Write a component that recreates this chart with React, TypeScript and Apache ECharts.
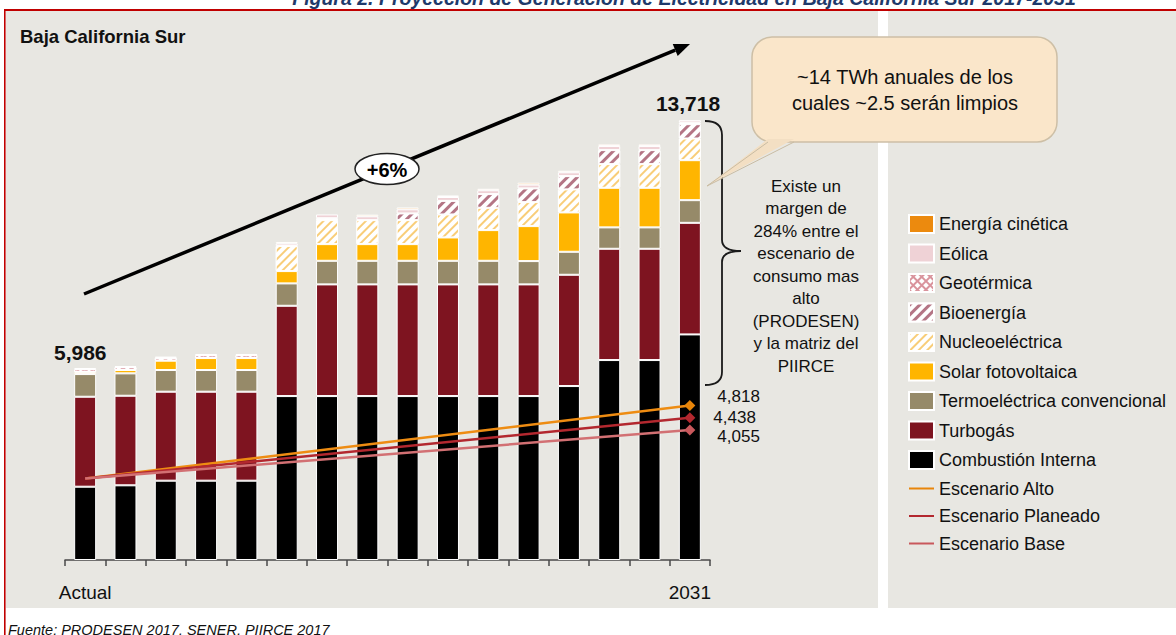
import React, { useEffect, useRef } from 'react';
import * as echarts from 'echarts';

// ---------- data ----------
const categories = ['Actual', '2017', '2018', '2019', '2020', '2021', '2022', '2023', '2024', '2025', '2026', '2027', '2028', '2029', '2030', '2031'];

const combustionInterna = [2286, 2329, 2474, 2474, 2474, 5113, 5113, 5113, 5113, 5113, 5113, 5113, 5425, 6236, 6236, 7036];
const turbogas = [2806, 2794, 2775, 2775, 2775, 2816, 3483, 3483, 3483, 3483, 3483, 3483, 3471, 3471, 3471, 3480];
const termoelectrica = [707, 698, 676, 676, 676, 698, 736, 736, 736, 736, 736, 727, 717, 667, 667, 707];
const solar = [62, 104, 291, 374, 374, 384, 520, 520, 520, 728, 957, 1091, 1228, 1235, 1235, 1247];
const nucleoelectrica = [0, 0, 0, 0, 0, 780, 748, 748, 748, 717, 696, 748, 717, 738, 738, 676];
const bioenergia = [0, 0, 0, 0, 0, 0, 0, 0, 208, 424, 427, 427, 415, 437, 437, 447];
const geotermica = [90, 90, 90, 90, 90, 0, 60, 0, 0, 0, 0, 0, 0, 0, 0, 50];
const eolica = [35, 35, 35, 35, 35, 80, 118, 120, 130, 120, 120, 120, 120, 130, 130, 75];
const cinetica = [0, 0, 0, 0, 0, 45, 0, 50, 57, 48, 46, 58, 46, 48, 48, 0];

const escenarioAlto = [2540, null, null, null, null, null, null, null, null, null, null, null, null, null, null, 4818];
const escenarioPlaneado = [2540, null, null, null, null, null, null, null, null, null, null, null, null, null, null, 4438];
const escenarioBase = [2540, null, null, null, null, null, null, null, null, null, null, null, null, null, null, 4055];

const shownLabels = ['Actual', '2031'];

// ---------- helpers ----------
const FONT = 'Liberation Sans';
const fmt = (v: number) => v.toLocaleString('en-US');

echarts.graphic.registerShape(
  'brace',
  echarts.graphic.extendPath(
    'M705 121 Q722 121 722 135 L722 240 Q722 251 741 251 Q722 251 722 262 L722 372 Q722 385 705 385',
    {}
  )
);

type BarDef = { name: string; data: number[]; color: string; decal?: any };

const barDefs: BarDef[] = [
  { name: 'Combustión Interna', data: combustionInterna, color: '#000000' },
  { name: 'Turbogás', data: turbogas, color: '#7E1420' },
  { name: 'Termoeléctrica convencional', data: termoelectrica, color: '#968A69' },
  { name: 'Solar fotovoltaica', data: solar, color: '#FFB500' },
  {
    name: 'Nucleoeléctrica', data: nucleoelectrica, color: '#FFFFFF',
    decal: { symbol: 'rect', symbolSize: 1, color: '#F8CD78', dashArrayX: [1, 0], dashArrayY: [2, 4], rotation: -Math.PI / 4 },
  },
  {
    name: 'Bioenergía', data: bioenergia, color: '#FFFFFF',
    decal: { symbol: 'rect', symbolSize: 1, color: '#B47585', dashArrayX: [1, 0], dashArrayY: [2.5, 3.5], rotation: -Math.PI / 4 },
  },
  {
    name: 'Geotérmica', data: geotermica, color: '#D9939C',
    decal: { symbol: 'rect', symbolSize: 1, color: '#FFFFFF', dashArrayX: [4, 1.5], dashArrayY: [4, 1.5], rotation: Math.PI / 4 },
  },
  { name: 'Eólica', data: eolica, color: '#EFD2D6' },
  { name: 'Energía cinética', data: cinetica, color: '#EC8A0E' },
];

type LineDef = { name: string; data: (number | null)[]; color: string; marker: string; distance: number; offset: number[] };
const lineDefs: LineDef[] = [
  { name: 'Escenario Alto', data: escenarioAlto, color: '#EE8C12', marker: '#E8850A', distance: 22, offset: [0, -9] },
  { name: 'Escenario Planeado', data: escenarioPlaneado, color: '#B3282F', marker: '#B3282F', distance: 18, offset: [0, 0] },
  { name: 'Escenario Base', data: escenarioBase, color: '#D27073', marker: '#C9585C', distance: 22, offset: [0, 7] },
];

const totals = categories.map((_, i) => barDefs.reduce((s, d) => s + d.data[i], 0));

// arrow geometry
const arrowStart = [84, 294];
const arrowTip = [690, 44];
const adx = arrowTip[0] - arrowStart[0];
const ady = arrowTip[1] - arrowStart[1];
const alen = Math.sqrt(adx * adx + ady * ady);
const ux = adx / alen, uy = ady / alen;
const headLen = 16, headHalf = 6.5;
const baseC = [arrowTip[0] - ux * headLen, arrowTip[1] - uy * headLen];
const arrowHead = [
  arrowTip,
  [baseC[0] - uy * headHalf, baseC[1] + ux * headHalf],
  [baseC[0] + uy * headHalf, baseC[1] - ux * headHalf],
];

function buildOption(): any {
  const barSeries = barDefs.map((d) => ({
    type: 'bar',
    name: d.name,
    stack: 'gen',
    barWidth: 22,
    data: d.data.map((v) => (v === 0 ? null : v)),
    itemStyle: { color: d.color, borderColor: '#FFFFFF', borderWidth: 1, ...(d.decal ? { decal: d.decal } : {}) },
    emphasis: { disabled: true },
    z: 2,
  }));

  const lineSeries = lineDefs.map((d) => ({
    type: 'line',
    name: d.name,
    connectNulls: true,
    symbol: 'diamond',
    symbolSize: 11,
    color: d.color,
    lineStyle: { color: d.color, width: 2.5 },
    itemStyle: { color: d.marker },
    emphasis: { disabled: true },
    z: 5,
    data: d.data.map((v, i) => {
      if (i === 0) return { value: v, symbol: 'none' };
      if (i === d.data.length - 1 && v != null)
        return {
          value: v,
          label: {
            show: true,
            position: 'right',
            distance: d.distance,
            offset: d.offset,
            formatter: (p: any) => fmt(p.value),
            fontFamily: FONT,
            fontSize: 17,
            color: '#111111',
          },
        };
      return v;
    }),
  }));

  const legendData = [
    ...barDefs.slice().reverse().map((d) => ({ name: d.name, icon: 'rect' })),
    ...lineDefs.map((d) => ({ name: d.name, icon: 'path://M0,0 L40,0 L40,3.2 L0,3.2 Z' })),
  ];

  const graphic: any[] = [
    // panels
    { type: 'rect', z: -20, silent: true, shape: { x: 6, y: 11, width: 872, height: 597 }, style: { fill: '#E8E7E2' } },
    { type: 'rect', z: -20, silent: true, shape: { x: 888, y: 11, width: 288, height: 597 }, style: { fill: '#E8E7E2' } },
    // red frame lines
    { type: 'rect', z: 10, silent: true, shape: { x: 4, y: 9, width: 1172, height: 2 }, style: { fill: '#C00000' } },
    { type: 'rect', z: 10, silent: true, shape: { x: 4, y: 9, width: 1.6, height: 626 }, style: { fill: '#C00000' } },
    // cut title
    {
      type: 'text', z: 10, silent: true, x: 684, y: 8,
      style: {
        text: 'Figura 2. Proyección de Generación de Electricidad en Baja California Sur 2017-2031',
        fontFamily: FONT, fontSize: 19.5, fontWeight: 'bold', fontStyle: 'italic', fill: '#1F3A6B',
        align: 'center', verticalAlign: 'bottom',
      },
    },
    // panel title
    {
      type: 'text', z: 10, silent: true, x: 20, y: 36,
      style: { text: 'Baja California Sur', fontFamily: FONT, fontSize: 18.5, fontWeight: 'bold', fill: '#111111', align: 'left', verticalAlign: 'middle' },
    },
    // arrow
    {
      type: 'line', z: 10, silent: true,
      shape: { x1: arrowStart[0], y1: arrowStart[1], x2: baseC[0], y2: baseC[1] },
      style: { stroke: '#000000', lineWidth: 3.5 },
    },
    { type: 'polygon', z: 10, silent: true, shape: { points: arrowHead }, style: { fill: '#000000' } },
    // +6% ellipse
    {
      type: 'ellipse', z: 11, silent: true, shape: { cx: 387, cy: 169, rx: 32, ry: 15.5 },
      style: { fill: '#FFFFFF', stroke: '#222222', lineWidth: 1.5 },
    },
    {
      type: 'text', z: 12, silent: true, x: 387, y: 170,
      style: { text: '+6%', fontFamily: FONT, fontSize: 20, fontWeight: 'bold', fill: '#000000', align: 'center', verticalAlign: 'middle' },
    },
    // totals
    {
      type: 'text', z: 10, silent: true, x: 54, y: 352,
      style: { text: fmt(totals[0]), fontFamily: FONT, fontSize: 21, fontWeight: 'bold', fill: '#111111', align: 'left', verticalAlign: 'middle' },
    },
    {
      type: 'text', z: 10, silent: true, x: 688, y: 103,
      style: { text: fmt(totals[totals.length - 1]), fontFamily: FONT, fontSize: 21, fontWeight: 'bold', fill: '#111111', align: 'center', verticalAlign: 'middle' },
    },
    // callout
    {
      type: 'rect', z: 10, silent: true, shape: { x: 752, y: 37, width: 305, height: 105, r: 20 },
      style: { fill: '#FAE6CA', stroke: '#CDBFA6', lineWidth: 1.5 },
    },
    { type: 'polygon', z: 11, silent: true, shape: { points: [[707, 186], [768, 139], [794, 139]] }, style: { fill: '#F3DFC3' } },
    { type: 'polyline', z: 11, silent: true, shape: { points: [[768, 142], [707, 186], [794, 142]] }, style: { stroke: '#C9BCA3', lineWidth: 1, fill: 'none' } },
    {
      type: 'text', z: 12, silent: true, x: 905, y: 90,
      style: {
        text: '~14 TWh anuales de los\ncuales ~2.5 serán limpios', fontFamily: FONT, fontSize: 20, lineHeight: 26,
        fill: '#111111', align: 'center', verticalAlign: 'middle',
      },
    },
    // brace
    { type: 'brace', z: 10, silent: true, x: 0, y: 0, style: { stroke: '#1A1A1A', lineWidth: 1.8, fill: 'none' } },
    {
      type: 'text', z: 10, silent: true, x: 806, y: 276,
      style: {
        text: 'Existe un\nmargen de\n284% entre el\nescenario de\nconsumo mas\nalto\n(PRODESEN)\ny la matriz del\nPIIRCE',
        fontFamily: FONT, fontSize: 17, lineHeight: 22.5, fill: '#111111', align: 'center', verticalAlign: 'middle',
      },
    },
    // source
    {
      type: 'text', z: 10, silent: true, x: 8, y: 622,
      style: { text: 'Fuente: PRODESEN 2017, SENER, PIIRCE 2017', fontFamily: FONT, fontSize: 14.5, fontStyle: 'italic', fill: '#111111', align: 'left', verticalAlign: 'top' },
    },
  ];

  return {
    animation: false,
    backgroundColor: '#FFFFFF',
    textStyle: { fontFamily: FONT },
    grid: { left: 65, width: 645, top: 47, height: 513 },
    xAxis: {
      type: 'category',
      data: categories,
      axisLine: { show: true, lineStyle: { color: '#4A4A4A', width: 1.5 } },
      axisTick: { show: true, length: 6, lineStyle: { color: '#4A4A4A', width: 1.5 } },
      axisLabel: {
        interval: 0,
        formatter: (v: string) => (shownLabels.includes(v) ? v : ''),
        fontFamily: FONT,
        fontSize: 19,
        color: '#111111',
        margin: 23,
      },
      splitLine: { show: false },
    },
    yAxis: { type: 'value', min: 0, max: 16000, show: false, splitLine: { show: false } },
    legend: {
      orient: 'vertical',
      left: 908,
      top: 214,
      padding: 0,
      itemWidth: 25,
      itemHeight: 18,
      itemGap: 9.5,
      selectedMode: false,
      symbolKeepAspect: true,
      data: legendData,
      textStyle: { fontFamily: FONT, fontSize: 18, color: '#111111', lineHeight: 18 },
    },
    series: [...barSeries, ...lineSeries],
    graphic,
  };
}

export default function App() {
  const ref = useRef<HTMLDivElement>(null);
  useEffect(() => {
    if (!ref.current) return;
    const chart = echarts.init(ref.current, undefined, { renderer: 'svg' });
    chart.setOption(buildOption());
    return () => chart.dispose();
  }, []);
  return (
    <div
      ref={ref}
      style={{ position: 'absolute', left: 0, top: 0, width: 1176, height: 635, background: '#FFFFFF' }}
    />
  );
}
